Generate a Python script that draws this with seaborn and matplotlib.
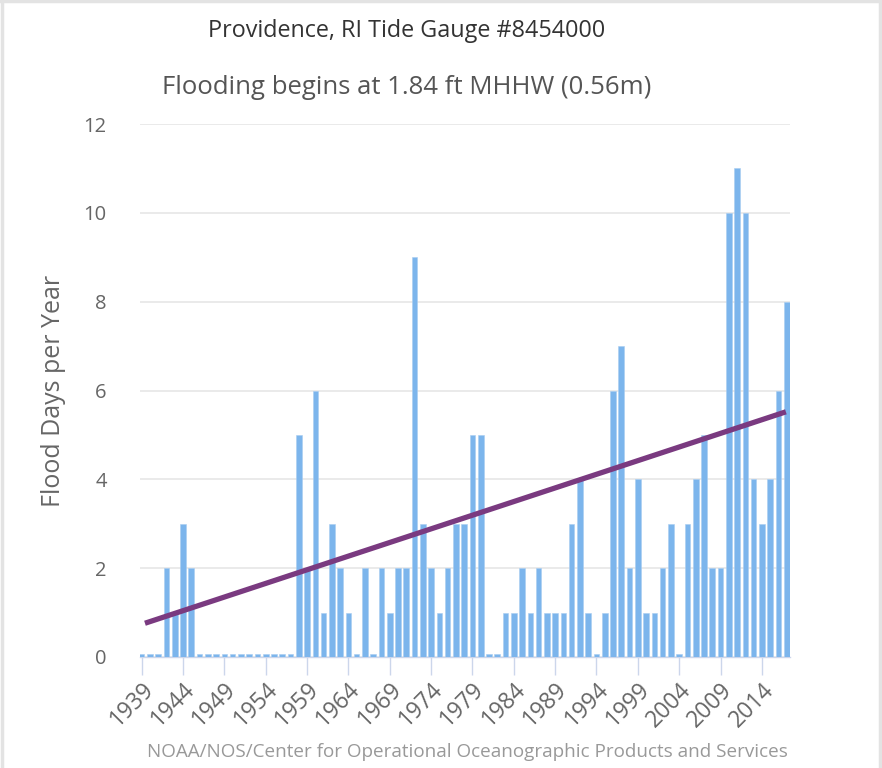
import numpy as np
import pandas as pd
import matplotlib
matplotlib.use("Agg")
import matplotlib.pyplot as plt
import seaborn as sns
from matplotlib.lines import Line2D

# ---- data ----
years = list(range(1939, 2018))
flood_days = [
    0, 0, 0, 2, 1, 3, 2,                      # 1939-1945
    0, 0, 0, 0, 0, 0, 0, 0, 0, 0, 0, 0,       # 1946-1957
    5, 2, 6, 1, 3, 2, 1, 0, 2, 0,             # 1958-1967
    2, 1, 2, 2, 9, 3, 2, 1, 2, 3,             # 1968-1977
    3, 5, 5, 0, 0, 1, 1, 2, 1, 2,             # 1978-1987
    1, 1, 1, 3, 4, 1, 0, 1, 6, 7,             # 1988-1997
    2, 4, 1, 1, 2, 3, 0, 3, 4, 5,             # 1998-2007
    2, 2, 10, 11, 10, 4, 3, 4, 6, 8,          # 2008-2017
]
trend_years = [1939.4, 2016.9]
trend_values = [0.76, 5.52]
tick_years = list(range(1939, 2015, 5))
y_ticks = [0, 2, 4, 6, 8, 10, 12]

title1 = "Providence, RI Tide Gauge #8454000"
title2 = "Flooding begins at 1.84 ft MHHW (0.56m)"
y_label = "Flood Days per Year"
credits = "NOAA/NOS/Center for Operational Oceanographic Products and Services"

# ---- styling ----
sns.set_theme(style="white")
plt.rcParams["font.family"] = ["Open Sans", "DejaVu Sans"]

W, H = 882, 768
fig = plt.figure(figsize=(W / 100, H / 100), dpi=100)
ax = fig.add_axes([140 / W, 1 - 657 / H, (790 - 140) / W, (657 - 124) / H])

# zero values are drawn as short stubs (min point length) like the original
min_len = 0.07
df = pd.DataFrame({"year": years,
                   "days": flood_days})
df["shown"] = np.maximum(df["days"], min_len)

sns.barplot(data=df, x="year", y="shown", native_scale=True, width=0.68,
            color="#7cb5ec", saturation=1, errorbar=None, ax=ax,
            edgecolor="#a9cdf1", linewidth=0.4, zorder=2)

sns.lineplot(x=trend_years, y=trend_values, ax=ax, color="#7a3a80",
             linewidth=3.8, zorder=3, solid_capstyle="butt")

ax.set_xlim(1938.8, 2017.4)
ax.set_ylim(0, 12)
ax.set_yticks(y_ticks)
ax.set_yticklabels([str(v) for v in y_ticks])
ax.set_xticks(tick_years)
ax.set_xticklabels([str(y) for y in tick_years], rotation=45, ha="right",
                   rotation_mode="anchor")

ax.yaxis.grid(True, color="#e6e6e6", linewidth=1.2, zorder=0)
ax.xaxis.grid(False)
ax.set_axisbelow(True)
for s in ["top", "right", "left"]:
    ax.spines[s].set_visible(False)
ax.spines["bottom"].set_color("#ccd6eb")
ax.spines["bottom"].set_linewidth(1)
ax.spines["bottom"].set_zorder(1)

ax.tick_params(axis="x", colors="#ccd6eb", length=13, width=1, pad=2,
               labelcolor="#666666", labelsize=16.5, direction="out", bottom=True)
ax.tick_params(axis="y", length=0, pad=24, labelcolor="#666666", labelsize=14.5)

ax.set_xlabel("")
ax.set_ylabel(y_label, fontsize=18, color="#666666", labelpad=12.5)

fig.text(407 / W, 1 - 31 / H, title1, ha="center", va="center",
         fontsize=16.8, color="#333333")
fig.text(407 / W, 1 - 87 / H, title2, ha="center", va="center",
         fontsize=18.5, color="#555555")
fig.text(788 / W, 1 - 752 / H, credits, ha="right", va="center",
         fontsize=13.6, color="#999999")

# light frame of the screenshot
for xs, ys in [([0, 1], [0.999, 0.999]), ([0.002, 0.002], [0, 1]),
               ([0.998, 0.998], [0, 1])]:
    fig.add_artist(Line2D(xs, ys, transform=fig.transFigure,
                          color="#e3e3e3", linewidth=2.5))

fig.savefig("out.png", dpi=100, facecolor="white")
